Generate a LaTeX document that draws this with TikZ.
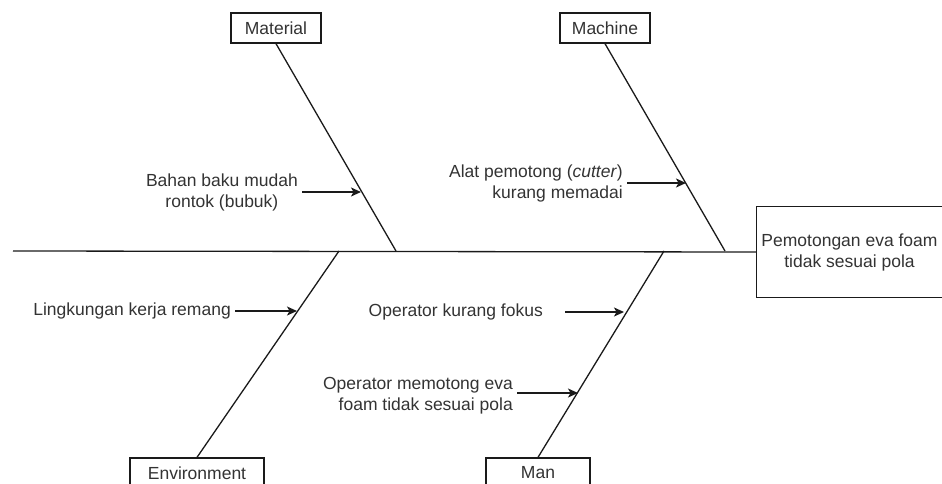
\documentclass[tikz,border=0pt]{standalone}
\usepackage{fontspec}
\setmainfont{Liberation Sans}
\usetikzlibrary{arrows.meta}
\definecolor{ink}{HTML}{1A1A1A}
\definecolor{txt}{HTML}{333333}
\tikzset{
  catbox/.style={draw=ink, line width=1.3pt, fill=white, text=txt, inner sep=0pt, minimum height=30pt, font=\fontsize{17.5}{21}\selectfont},
  effectbox/.style={text=txt, inner sep=0pt, font=\fontsize{17.5}{21}\selectfont, align=center},
  cause/.style={text=txt, inner sep=4pt, font=\fontsize{17.5}{21}\selectfont},
  bone/.style={draw=ink, line width=1.3pt},
  causearrow/.style={draw=ink, line width=1.3pt, -{Stealth[length=10pt,width=9pt,inset=2.5pt]}}
}
\begin{document}
\begin{tikzpicture}[x=1pt,y=-1pt]
\useasboundingbox (0,0) rectangle (942,484);
% effect box (its right side runs past the picture's edge)
\node[effectbox, minimum width=185pt, minimum height=90pt] (effect) at (849.5,252) {Pemotongan eva foam\\tidak sesuai pola};
\draw[bone] (effect.north east) -- (effect.north west) -- (effect.south west) -- (effect.south east);
% category boxes
\node[catbox, minimum width=90pt] (material) at (276,28) {Material};
\node[catbox, minimum width=90pt] (machine) at (605,28) {Machine};
\node[catbox, minimum width=134pt] (environment) at (197,473) {Environment};
\node[catbox, minimum width=104pt] (man) at (538,473) {Man};
% spine
\coordinate (tail) at (13,251);
\coordinate (jmat) at (396,251);
\coordinate (jmac) at (725,251);
\coordinate (jenv) at (339,251);
\coordinate (jman) at (664,251);
\draw[bone] (tail) -- (effect.west);
\draw[bone] (material.south) -- (jmat);
\draw[bone] (machine.south) -- (jmac);
\draw[bone] (environment.north) -- (jenv);
\draw[bone] (man.north) -- (jman);
% cause points on bones
\coordinate (pmat) at (361,192);
\coordinate (pmac) at (686,183);
\coordinate (penv) at (297,311);
\coordinate (pman1) at (624,312);
\coordinate (pman2) at (578,393);
% causes
\node[cause, anchor=east, align=center] (c1) at (302,192) {Bahan baku mudah\\rontok (bubuk)};
\node[cause, anchor=east, align=right] (c2) at (627,183) {Alat pemotong (\textit{cutter})\\kurang memadai};
\node[cause, anchor=east] (c3) at (235,311) {Lingkungan kerja remang};
\node[cause, anchor=east] (c4) at (547,312) {Operator kurang fokus};
\node[cause, anchor=east, align=right] (c5) at (517,396) {Operator memotong eva\\foam tidak sesuai pola};
\draw[causearrow] (c1.east) -- (pmat);
\draw[causearrow] (c2.east |- pmac) -- (pmac);
\draw[causearrow] (c3.east) -- (penv);
\draw[causearrow, shorten <=18pt] (c4.east) -- (pman1);
\draw[causearrow] (c5.east |- pman2) -- (pman2);
\end{tikzpicture}
\end{document}
